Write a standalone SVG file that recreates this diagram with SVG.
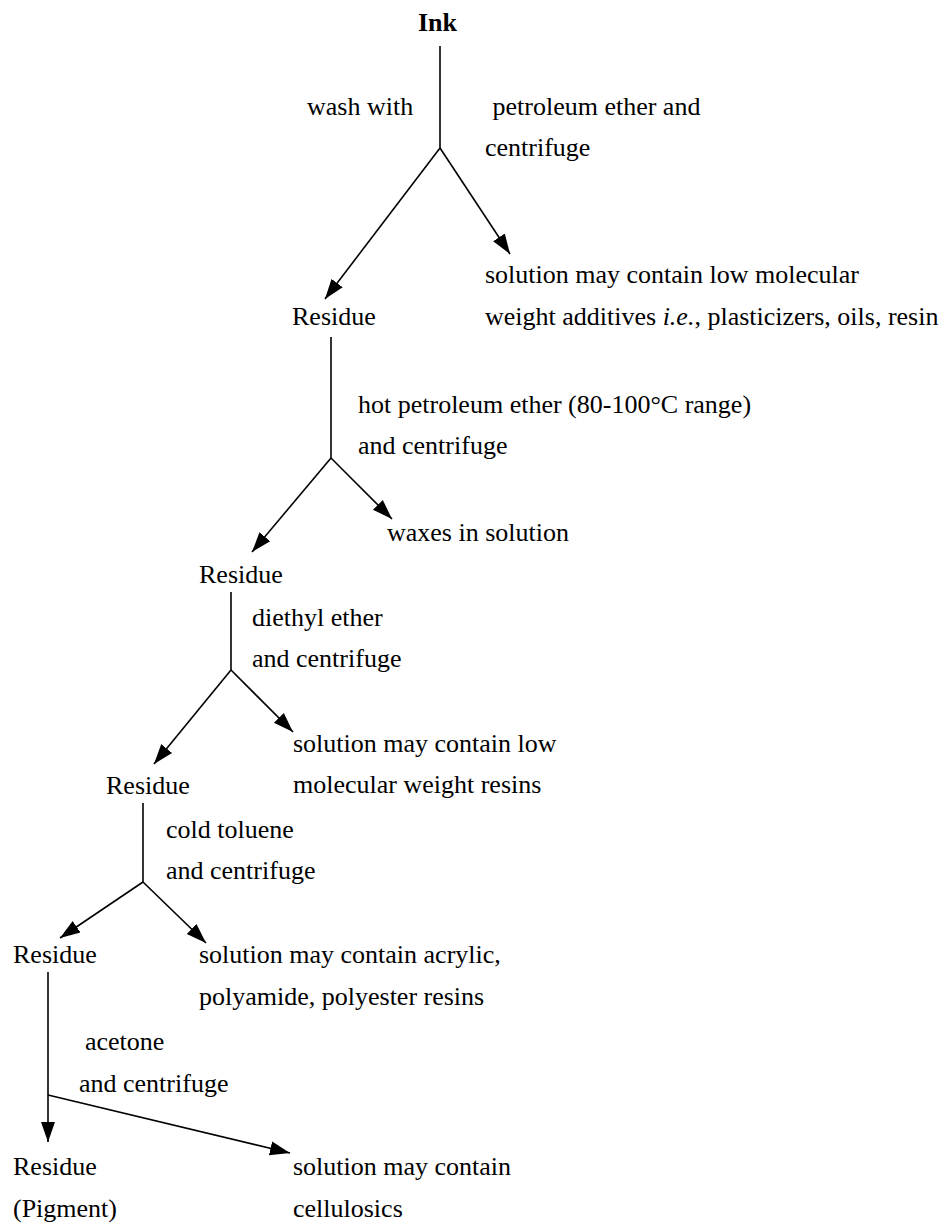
<svg xmlns="http://www.w3.org/2000/svg" width="945" height="1225" viewBox="0 0 945 1225">
<style>
text{font-family:"Liberation Serif","Times New Roman",serif;font-size:26px;fill:#000}
.b{font-weight:bold}
.c line{stroke:#000;stroke-width:1.6;fill:none}
.c .a{marker-end:url(#arr)}
</style>
<defs>
<marker id="arr" markerUnits="userSpaceOnUse" markerWidth="22" markerHeight="16" refX="20" refY="8" orient="auto">
<path d="M0,1 L20,8 L0,15 z" fill="#000"/>
</marker>
</defs>
<rect width="945" height="1225" fill="#fff"/>
<g class="c" id="connectors">
<line x1="440" y1="46" x2="440" y2="148"/>
<line class="a" x1="440" y1="148" x2="325" y2="299"/>
<line class="a" x1="440" y1="148" x2="510" y2="254"/>
<line x1="331" y1="337" x2="331" y2="458"/>
<line class="a" x1="331" y1="458" x2="252" y2="552"/>
<line class="a" x1="331" y1="458" x2="392" y2="519"/>
<line x1="231" y1="592" x2="231" y2="670"/>
<line class="a" x1="231" y1="670" x2="154" y2="764"/>
<line class="a" x1="231" y1="670" x2="293" y2="732"/>
<line x1="143" y1="803" x2="143" y2="882"/>
<line class="a" x1="143" y1="882" x2="60" y2="938"/>
<line class="a" x1="143" y1="882" x2="206" y2="943"/>
<line x1="48" y1="972" x2="48" y2="1095"/>
<line class="a" x1="48" y1="1095" x2="48" y2="1142"/>
<line class="a" x1="48" y1="1095" x2="290" y2="1153"/>
</g>
<g id="ink"><text class="b" x="418" y="31">Ink</text></g>
<g id="step1">
<text x="307" y="115">wash with</text>
<text x="486" y="115" xml:space="preserve"> petroleum ether and</text>
<text x="485" y="156">centrifuge</text>
</g>
<g id="solution1">
<text x="485" y="283">solution may contain low molecular</text>
<text x="485" y="325">weight additives <tspan font-style="italic">i.e.</tspan>, plasticizers, oils, resin</text>
</g>
<g id="residue1"><text x="292" y="325">Residue</text></g>
<g id="step2">
<text x="358" y="413">hot petroleum ether (80-100°C range)</text>
<text x="358" y="454">and centrifuge</text>
</g>
<g id="solution2"><text x="387" y="541">waxes in solution</text></g>
<g id="residue2"><text x="199" y="583">Residue</text></g>
<g id="step3">
<text x="252" y="626">diethyl ether</text>
<text x="252" y="667">and centrifuge</text>
</g>
<g id="solution3">
<text x="293" y="752">solution may contain low</text>
<text x="293" y="793">molecular weight resins</text>
</g>
<g id="residue3"><text x="106" y="794">Residue</text></g>
<g id="step4">
<text x="166" y="838">cold toluene</text>
<text x="166" y="879">and centrifuge</text>
</g>
<g id="residue4"><text x="13" y="963">Residue</text></g>
<g id="solution4">
<text x="199" y="963">solution may contain acrylic,</text>
<text x="199" y="1005">polyamide, polyester resins</text>
</g>
<g id="step5">
<text x="85" y="1050">acetone</text>
<text x="79" y="1092">and centrifuge</text>
</g>
<g id="residue5">
<text x="13" y="1175">Residue</text>
<text x="13" y="1217">(Pigment)</text>
</g>
<g id="solution5">
<text x="293" y="1175">solution may contain</text>
<text x="293" y="1217">cellulosics</text>
</g>
</svg>
